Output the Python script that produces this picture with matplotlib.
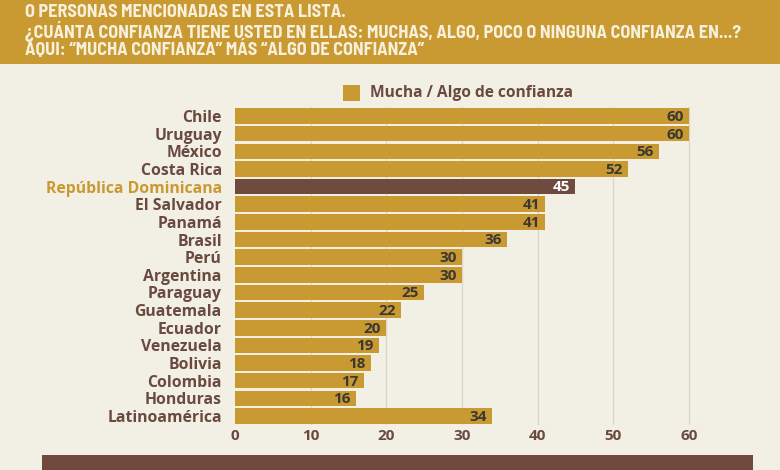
import matplotlib.pyplot as plt
from matplotlib.patches import Rectangle
from matplotlib import font_manager as fm

# datos (orden de arriba hacia abajo)
paises = ['Chile', 'Uruguay', 'México', 'Costa Rica', 'República Dominicana',
          'El Salvador', 'Panamá', 'Brasil', 'Perú', 'Argentina', 'Paraguay',
          'Guatemala', 'Ecuador', 'Venezuela', 'Bolivia', 'Colombia',
          'Honduras', 'Latinoamérica']
valores = [60, 60, 56, 52, 45, 41, 41, 36, 30, 30, 25, 22, 20, 19, 18, 17, 16, 34]
destacado = 'República Dominicana'
ticks_x = [0, 10, 20, 30, 40, 50, 60]

encabezado = [
    'O PERSONAS MENCIONADAS EN ESTA LISTA.',
    '¿CUÁNTA CONFIANZA TIENE USTED EN ELLAS: MUCHAS, ALGO, POCO O NINGUNA CONFIANZA EN...?',
    'AQUI: \u201cMUCHA CONFIANZA\u201d MÁS \u201cALGO DE CONFIANZA\u201d',
]
leyenda = 'Mucha / Algo de confianza'

ORO = '#ca9a32'
CAFE = '#6f4a3e'
FONDO = '#f2efe4'
TEXTO_CAFE = '#6a4a40'
TEXTO_VALOR = '#3b3833'
REJILLA = '#ddd7c6'

W, H = 780, 470
fig = plt.figure(figsize=(W / 100, H / 100), dpi=100)
fig.patch.set_facecolor(FONDO)

# banda superior
fig.patches.append(Rectangle((0, 1 - 64 / H), 1, 64 / H, transform=fig.transFigure,
                             facecolor=ORO, edgecolor='none', zorder=0))
# banda inferior
fig.patches.append(Rectangle((42 / W, 0), (753 - 42) / W, 15 / H, transform=fig.transFigure,
                             facecolor=CAFE, edgecolor='none', zorder=0))


def peso(f):
    w = f.weight
    if isinstance(w, str):
        return fm.weight_dict.get(w, 400)
    return w


# buscar una fuente angosta con negrita (mejor semi-condensada)
angostas = [f for f in fm.fontManager.ttflist
            if 'Narrow' in f.name or 'Condensed' in f.name]
con_negrita = sorted({f.name for f in angostas if peso(f) >= 600})
semi = [n for n in con_negrita if 'Semi' in n]
nombres = semi or con_negrita or sorted({f.name for f in angostas})
fuente_cond = nombres[:1] + ['DejaVu Sans']

textos_enc = []
for i, linea in enumerate(encabezado):
    t = fig.text(25 / W, 1 - (12.5 + i * 18.5) / H, linea, color='#f7f0dc',
                 fontsize=12.5, fontweight='bold', family=fuente_cond,
                 ha='left', va='center')
    textos_enc.append(t)

# ajustar tamano para que la linea larga ocupe ~715 px
renderer = fig.canvas.get_renderer()
ancho_px = textos_enc[1].get_window_extent(renderer).width
tam = min(13.8, 12.5 * 715 / ancho_px)
for t in textos_enc:
    t.set_fontsize(tam)

# eje principal
izq = 235 / W
ancho = (454 / 60 * 70) / W
abajo = 1 - 424.8 / H
alto = 317.6 / H
ax = fig.add_axes([izq, abajo, ancho, alto])
ax.set_facecolor('none')

pos = list(range(len(paises)))
colores = [CAFE if p == destacado else ORO for p in paises]
ax.barh(pos, valores, height=0.88, color=colores, edgecolor='none', zorder=2)

for y, v, p in zip(pos, valores, paises):
    ax.text(v - 0.7, y + 0.05, str(v), ha='right', va='center', fontsize=11,
            fontweight='bold', family='Open Sans',
            color='white' if p == destacado else TEXTO_VALOR, zorder=3)

ax.set_xlim(0, 70)
ax.set_ylim(len(paises) - 0.5, -0.5)
ax.set_yticks(pos)
ax.set_yticklabels(paises, fontsize=11.3, fontweight='bold', family='Open Sans')
for lbl in ax.get_yticklabels():
    lbl.set_color(ORO if lbl.get_text() == destacado else TEXTO_CAFE)
ax.set_xticks(ticks_x)
ax.set_xticklabels([str(t) for t in ticks_x], fontsize=11, fontweight='bold',
                   family='Open Sans', color=TEXTO_CAFE)
ax.tick_params(axis='both', length=0)
ax.tick_params(axis='y', pad=9.5)
ax.tick_params(axis='x', pad=3)
for t in ticks_x[1:]:
    ax.axvline(t, color=REJILLA, linewidth=1, zorder=1)
for s in ax.spines.values():
    s.set_visible(False)

# leyenda
fig.patches.append(Rectangle((343 / W, 1 - 101 / H), 17 / W, 16 / H, transform=fig.transFigure,
                             facecolor=ORO, edgecolor='none'))
fig.text(370 / W, 1 - 93 / H, leyenda, fontsize=11.2, fontweight='bold',
         family='Open Sans', color=TEXTO_CAFE, ha='left', va='center')

fig.savefig('out.png', dpi=100, facecolor=FONDO)
